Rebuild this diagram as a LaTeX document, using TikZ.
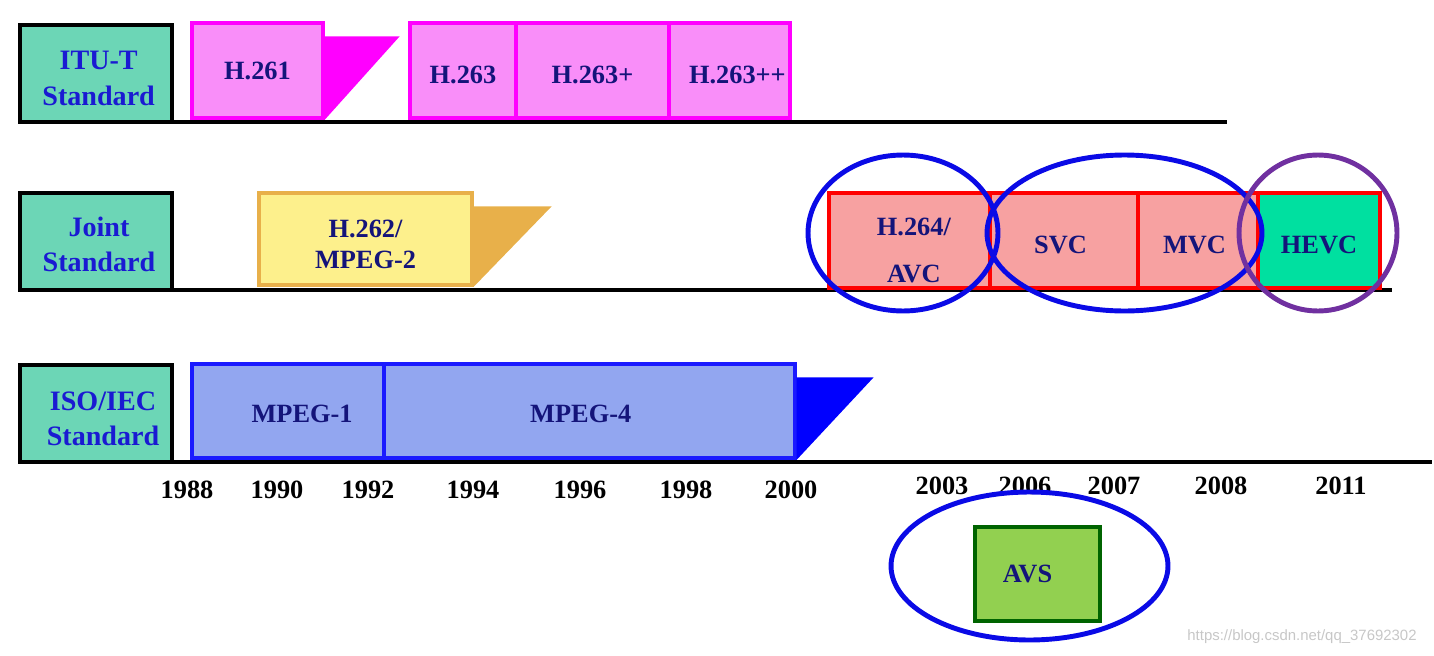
\documentclass[tikz,border=0pt]{standalone}
\usepackage{fontspec}
\setmainfont{Liberation Serif}
\newfontfamily\marksans{Liberation Sans}
\usetikzlibrary{calc,shapes.geometric}

\definecolor{stdteal}{HTML}{6CD6B6}
\definecolor{stdblue}{HTML}{1A1AD2}
\definecolor{navy}{HTML}{14147A}
\definecolor{ituline}{HTML}{FF00FF}
\definecolor{itufill}{HTML}{F98EF9}
\definecolor{jtline}{HTML}{E8B04A}
\definecolor{jtfill}{HTML}{FDF08C}
\definecolor{avcline}{HTML}{FF0000}
\definecolor{avcfill}{HTML}{F7A1A1}
\definecolor{hevcfill}{HTML}{00E0A0}
\definecolor{isoline}{HTML}{1A1AFF}
\definecolor{isofill}{HTML}{92A6F0}
\definecolor{isotri}{HTML}{0000FF}
\definecolor{avsline}{HTML}{006400}
\definecolor{avsfill}{HTML}{92D050}
\definecolor{ringblue}{HTML}{0A0AE6}
\definecolor{ringpurple}{HTML}{7030A0}

% text mutat in interiorul casetei: {dx}{dy}{text}
\newcommand\placetxt[3]{\raisebox{-#2}[\height][\depth]{\makebox[0pt]{\hspace*{#1}\hspace*{#1}#3}}}
\newcommand\twolines[3][0pt]{\begin{tabular}{@{}c@{}}#2\\[#1]#3\end{tabular}}

\begin{document}
\begin{tikzpicture}[
  x=0.02cm,y=-0.02cm,
  font=\fontsize{15}{18}\selectfont\bfseries,
  stdbox/.style={draw=black,line width=2.2pt,fill=stdteal,text=stdblue,
                 minimum width=3.04cm,minimum height=1.94cm,inner sep=0pt,
                 font=\fontsize{16}{20}\selectfont\bfseries},
  seg/.style={line width=2pt,text=navy,minimum height=1.9cm,inner sep=0pt},
  itu/.style={seg,draw=ituline,fill=itufill},
  joint/.style={seg,draw=jtline,fill=jtfill,minimum height=1.84cm},
  avc/.style={seg,draw=avcline,fill=avcfill},
  iso/.style={seg,draw=isoline,fill=isofill,minimum height=1.88cm},
  avs/.style={seg,draw=avsline,fill=avsfill,minimum height=1.88cm,minimum width=2.5cm},
  axis/.style={line width=2.8pt},
  year/.style={text=black},
  ring/.style={ellipse,draw=#1,line width=2.8pt,inner sep=0pt}
]
\useasboundingbox (0,0) rectangle (1434,656);

% ---- linii de timp ----
\coordinate (itul) at (20,122);  \coordinate (itur) at (1227,122);
\coordinate (jtl)  at (20,290);  \coordinate (jtr)  at (1392,290);
\coordinate (isol) at (20,462);  \coordinate (isor) at (1432,462);
\draw[axis] (itul) -- (itur);
\draw[axis] (jtl) -- (jtr);
\draw[axis] (isol) -- (isor);

% ---- etichete standarde ----
\node[stdbox] (itu)    at (96,73.5)  {\placetxt{1.5pt}{4pt}{\twolines{ITU-T}{Standard}}};
\node[stdbox] (joint)  at (96,241.5) {\placetxt{1.7pt}{3.3pt}{\twolines{Joint}{Standard}}};
\node[stdbox] (isoiec) at (96,413.5) {\placetxt{4pt}{4.1pt}{\twolines{ISO/IEC}{Standard}}};

% ---- ITU-T ----
\node[itu,minimum width=2.62cm] (h261) at (257.5,70.5) {H.261};
\fill[ituline] (h261.south east) -- ($(h261.north east)+(0,15)$) -- ++(75,0) -- cycle;
\node[itu,minimum width=2.12cm] (h263)   at (463,70.5)   {\placetxt{0pt}{2.8pt}{H.263}};
\node[itu,minimum width=3.06cm] (h263p)  at (592.5,70.5) {\placetxt{0pt}{2.8pt}{H.263+}};
\node[itu,minimum width=2.42cm] (h263pp) at (729.5,70.5) {\placetxt{4.5pt}{2.8pt}{H.263++}};

% ---- Joint ----
\node[joint,minimum width=4.26cm] (h262) at (365.5,239)
  {\placetxt{0pt}{4.4pt}{\twolines{H.262/}{MPEG-2}}};
\fill[jtline] (h262.south east) -- ($(h262.north east)+(0,15)$) -- ++(78,0) -- cycle;
\node[avc,minimum width=3.22cm] (h264) at (909.5,240.5)
  {\placetxt{2.5pt}{7pt}{\twolines[8.6pt]{H.264/}{AVC}}};
\node[avc,minimum width=2.96cm] (svc)  at (1064,240.5) {\placetxt{-2pt}{2.3pt}{SVC}};
\node[avc,minimum width=2.4cm]  (mvc)  at (1198,240.5) {\placetxt{-2pt}{2.3pt}{MVC}};
\node[avc,fill=hevcfill,minimum width=2.44cm] (hevc) at (1319,240.5) {\placetxt{0pt}{2.3pt}{HEVC}};

% ---- ISO/IEC ----
\node[iso,minimum width=3.84cm] (mpeg1) at (288,411)   {\placetxt{8pt}{1.7pt}{MPEG-1}};
\node[iso,minimum width=8.22cm] (mpeg4) at (589.5,411) {\placetxt{-5pt}{1.7pt}{MPEG-4}};
\fill[isotri] (mpeg4.south east) -- ($(mpeg4.north east)+(0,15)$) -- ++(77,0) -- cycle;

% ---- ani ----
\node[year] (y1988) at (187,490) {1988};
\node[year] (y1990) at (277,490) {1990};
\node[year] (y1992) at (368,490) {1992};
\node[year] (y1994) at (473,490) {1994};
\node[year] (y1996) at (580,490) {1996};
\node[year] (y1998) at (686,490) {1998};
\node[year] (y2000) at (791,490) {2000};
\node[year] (y2003) at (942,486) {2003};
\node[year] (y2006) at (1025,486) {2006};
\node[year] (y2007) at (1114,486) {2007};
\node[year] (y2008) at (1221,486) {2008};
\node[year] (y2011) at (1341,486) {2011};

% ---- AVS ----
\node[avs] (avsbox) at (1037.5,574) {\placetxt{-5.7pt}{0pt}{AVS}};

% ---- cercuri de evidentiere ----
\node[ring=ringblue,minimum width=3.8cm,minimum height=3.12cm] (avcring) at (903,233) {};
\node[ring=ringblue,minimum width=5.5cm,minimum height=3.12cm] (extring) at (1124.5,233) {};
\node[ring=ringpurple,minimum width=3.16cm,minimum height=3.12cm] (hevcring) at (1318,233) {};
\node[ring=ringblue,minimum width=5.54cm,minimum height=2.96cm] (avsring) at (1029.5,566) {};

% ---- watermark ----
\node[font=\marksans\fontsize{8.5}{10}\selectfont,text=black!22] (wm) at (1302,637)
  {https://blog.csdn.net/qq\_37692302};

\end{tikzpicture}
\end{document}
